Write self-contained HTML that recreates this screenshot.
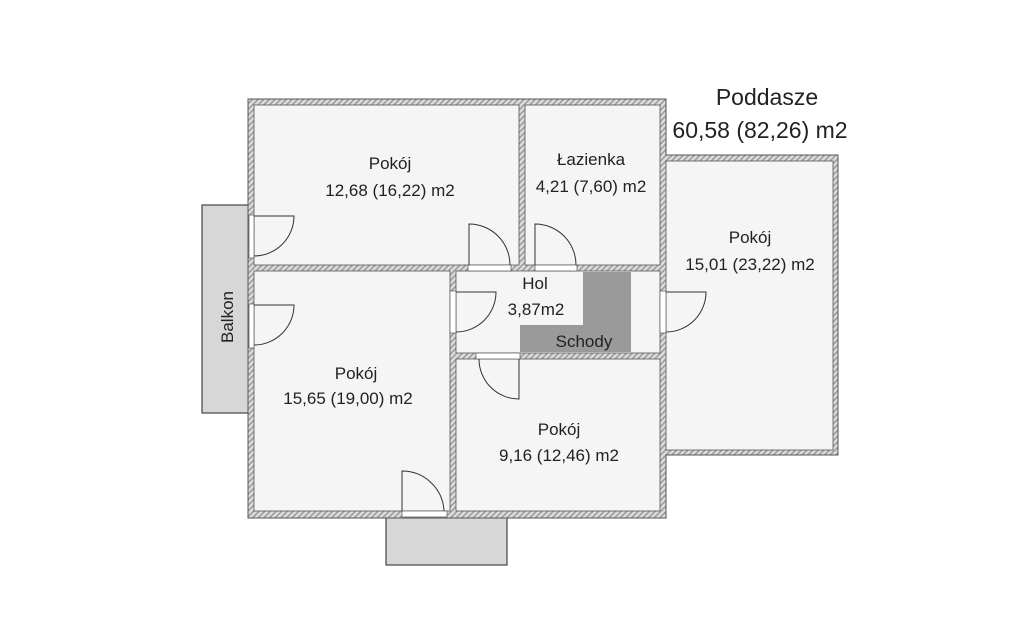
<!DOCTYPE html>
<html><head><meta charset="utf-8"><style>
html,body{margin:0;padding:0;background:#fff;}
svg{display:block;}
text{font-family:"Liberation Sans","DejaVu Sans",sans-serif;fill:#222;}
</style></head><body>
<svg width="1024" height="623" viewBox="0 0 1024 623" xmlns="http://www.w3.org/2000/svg">
<defs>
<pattern id="h" width="4" height="4" patternUnits="userSpaceOnUse" patternTransform="rotate(45)">
<rect width="4" height="4" fill="#dcdcdc"/><rect width="1.5" height="4" fill="#9a9a9a"/>
</pattern>
</defs>
<rect x="202" y="205" width="47" height="208" fill="#d7d7d7" stroke="#444" stroke-width="1.2"/>
<rect x="386" y="517" width="121" height="48" fill="#d7d7d7" stroke="#444" stroke-width="1.2"/>
<path d="M248,99 H666 V155 H838 V455 H666 V518 H248 Z" fill="url(#h)" stroke="#555" stroke-width="1"/>
<g fill="#f5f5f5" stroke="#555" stroke-width="0.8">
<rect x="254" y="105" width="265" height="160"/>
<rect x="525" y="105" width="135" height="160"/>
<rect x="666" y="161" width="167" height="289"/>
<rect x="254" y="271" width="196" height="240"/>
<rect x="456" y="271" width="204" height="82"/>
<rect x="456" y="359" width="204" height="152"/>
</g>
<path d="M583,272 H631 V352 H520 V325 H583 Z" fill="#9a9a9a"/>
<g fill="#fff" stroke="#555" stroke-width="0.7">
<rect x="249" y="215" width="5" height="43"/>
<rect x="249" y="304" width="5" height="44"/>
<rect x="468" y="265" width="43" height="6"/>
<rect x="535" y="265" width="42" height="6"/>
<rect x="450" y="291" width="6" height="42"/>
<rect x="660" y="291" width="6" height="42"/>
<rect x="476" y="353" width="44" height="6"/>
<rect x="402" y="511" width="45" height="6"/>
</g>
<g fill="none" stroke="#333" stroke-width="1">
<path d="M254,216 H294 A40,40 0 0 1 254,256"/>
<path d="M254,305 H294 A40,40 0 0 1 254,345"/>
<path d="M469,265 V224 A41,41 0 0 1 510,265"/>
<path d="M535,265 V224 A41,41 0 0 1 576,265"/>
<path d="M456,292 H496 A40,40 0 0 1 456,332"/>
<path d="M666,292 H706 A40,40 0 0 1 666,332"/>
<path d="M519,359 V399 A40,40 0 0 1 479,359"/>
<path d="M402,511 V471 A42,42 0 0 1 444,511"/>
</g>
<g font-size="17" text-anchor="middle">
<text x="390" y="169">Pokój</text>
<text x="390" y="196">12,68 (16,22) m2</text>
<text x="591" y="165">Łazienka</text>
<text x="591" y="192">4,21 (7,60) m2</text>
<text x="750" y="243">Pokój</text>
<text x="750" y="270">15,01 (23,22) m2</text>
<text x="535" y="289">Hol</text>
<text x="536" y="315">3,87m2</text>
<text x="584" y="347">Schody</text>
<text x="356" y="379">Pokój</text>
<text x="348" y="404">15,65 (19,00) m2</text>
<text x="559" y="435">Pokój</text>
<text x="559" y="461">9,16 (12,46) m2</text>
</g>
<text x="233" y="317" font-size="17" text-anchor="middle" transform="rotate(-90 233 317)">Balkon</text>
<g font-size="23" text-anchor="middle">
<text x="767" y="105">Poddasze</text>
<text x="760" y="138">60,58 (82,26) m2</text>
</g>
</svg>
</body></html>
